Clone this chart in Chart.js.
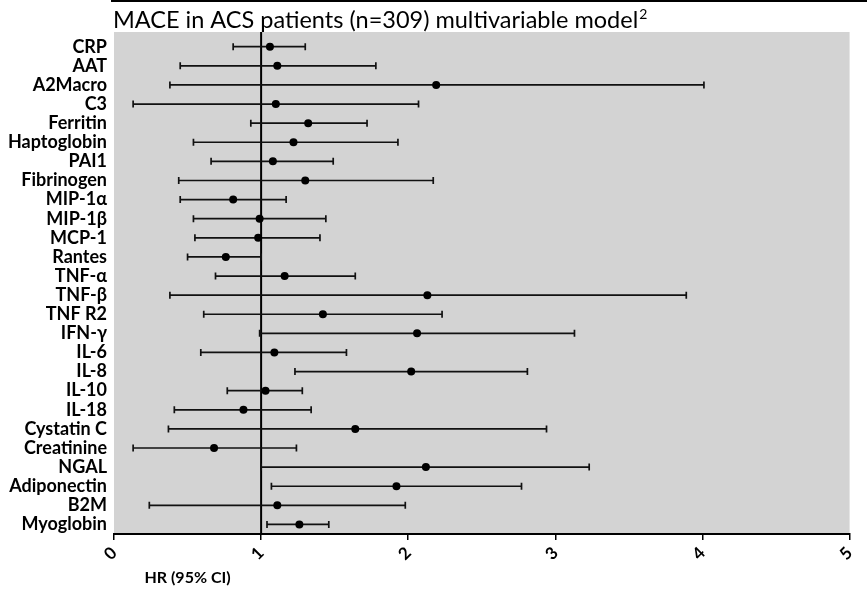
<!DOCTYPE html>
<html>
<head>
<meta charset="utf-8">
<script src="https://cdn.jsdelivr.net/npm/chart.js@4"></script>
<style>
html,body{margin:0;padding:0;background:#fff;}
#wrap{width:867px;height:592px;position:relative;}
</style>
</head>
<body>
<div id="wrap"><canvas id="c" width="867" height="592"></canvas></div>
<script>
const titleText = 'MACE in ACS patients (n=309) multivariable model';
const titleSup = '2';
const axisTitle = 'HR (95% CI)';
const labels = ['CRP','AAT','A2Macro','C3','Ferritin','Haptoglobin','PAI1','Fibrinogen','MIP-1\u03B1','MIP-1\u03B2','MCP-1','Rantes','TNF-\u03B1','TNF-\u03B2','TNF R2','IFN-\u03B3','IL-6','IL-8','IL-10','IL-18','Cystatin C','Creatinine','NGAL','Adiponectin','B2M','Myoglobin'];
const hr    = [1.06,1.11,2.19,1.10,1.32,1.22,1.08,1.30,0.81,0.99,0.98,0.76,1.16,2.13,1.42,2.06,1.09,2.02,1.03,0.88,1.64,0.68,2.12,1.92,1.11,1.26];
const lower = [0.81,0.45,0.38,0.13,0.93,0.54,0.66,0.44,0.45,0.54,0.55,0.50,0.69,0.38,0.61,0.99,0.59,1.23,0.77,0.41,0.37,0.13,1.00,1.07,0.24,1.04];
const upper = [1.30,1.78,4.01,2.07,1.72,1.93,1.49,2.17,1.17,1.44,1.40,1.00,1.64,3.89,2.23,3.13,1.58,2.81,1.28,1.34,2.94,1.24,3.23,2.77,1.98,1.46];
const xTicks = [0,1,2,3,4,5];

const FONT = 'Lato, "Liberation Sans", sans-serif';
const yMin = -0.77, yMax = 25.5;

const datasets = [];
// reference line at HR = 1
datasets.push({type:'line', data:[{x:1,y:yMin},{x:1,y:yMax}], borderColor:'#000', borderWidth:2, pointRadius:0, order:3});
// CI whiskers with end caps
labels.forEach((name,i)=>{
  datasets.push({
    type:'line', label:name,
    data:[{x:lower[i],y:i},{x:upper[i],y:i}],
    borderColor:'#111', borderWidth:1.7,
    pointStyle:'line', pointRotation:90, pointRadius:3.5,
    pointBorderColor:'#111', pointBorderWidth:1.7, pointBackgroundColor:'#111',
    order:2
  });
});
// point estimates
datasets.push({type:'scatter', data:hr.map((v,i)=>({x:v,y:i})), pointRadius:4, pointBackgroundColor:'#000', pointBorderColor:'#000', pointBorderWidth:0, order:1});

const bgPlugin = {
  id:'bg',
  beforeDraw(chart){
    const {ctx, chartArea:a} = chart;
    ctx.save();
    ctx.fillStyle = '#d3d3d3';
    ctx.fillRect(a.left, a.top, a.right - a.left, a.bottom - a.top);
    ctx.restore();
  },
  afterDraw(chart){
    const {ctx, chartArea:a} = chart;
    ctx.save();
    // top rule
    ctx.fillStyle = '#000';
    ctx.fillRect(a.left - 3, 0, chart.width - a.left + 3, 2);
    // title with superscript
    ctx.fillStyle = '#000';
    ctx.font = '23.5px ' + FONT;
    ctx.textBaseline = 'alphabetic';
    ctx.textAlign = 'left';
    ctx.fillText(titleText, a.left - 1, 28);
    const w = ctx.measureText(titleText).width;
    ctx.font = '14px ' + FONT;
    ctx.fillText(titleSup, a.left - 1 + w + 1, 19);
    // x-axis title
    const xs = chart.scales.x;
    ctx.font = 'bold 16px ' + FONT;
    ctx.textAlign = 'center';
    ctx.fillText(axisTitle, xs.getPixelForValue(0.5), 583);
    ctx.restore();
  }
};

new Chart(document.getElementById('c'), {
  data:{datasets},
  options:{
    responsive:false, animation:false,
    layout:{padding:{top:32, right:1, left:0, bottom:0}},
    plugins:{legend:{display:false}, tooltip:{enabled:false}, title:{display:false}},
    scales:{
      x:{
        type:'linear', min:0, max:5,
        afterBuildTicks: ax => { ax.ticks = xTicks.map(v=>({value:v})); },
        afterFit: ax => { ax.height = 58; },
        grid:{drawOnChartArea:false, drawTicks:true, tickLength:6, color:'#000', lineWidth:1.5},
        border:{display:true, color:'#000', width:2},
        ticks:{color:'#000', font:{family:FONT, size:17, weight:'bold'}, minRotation:45, maxRotation:45, padding:3}
      },
      y:{
        type:'linear', min:yMin, max:yMax, reverse:true,
        afterBuildTicks: ax => { ax.ticks = labels.map((_,i)=>({value:i})); },
        afterFit: ax => { ax.width = 114; },
        grid:{display:false, drawTicks:false},
        border:{display:false},
        ticks:{color:'#000', padding:7, autoSkip:false, font:{family:FONT, size:18, weight:'bold'},
          callback:(v)=> labels[v] ?? ''}
      }
    }
  },
  plugins:[bgPlugin]
});
</script>
</body>
</html>
